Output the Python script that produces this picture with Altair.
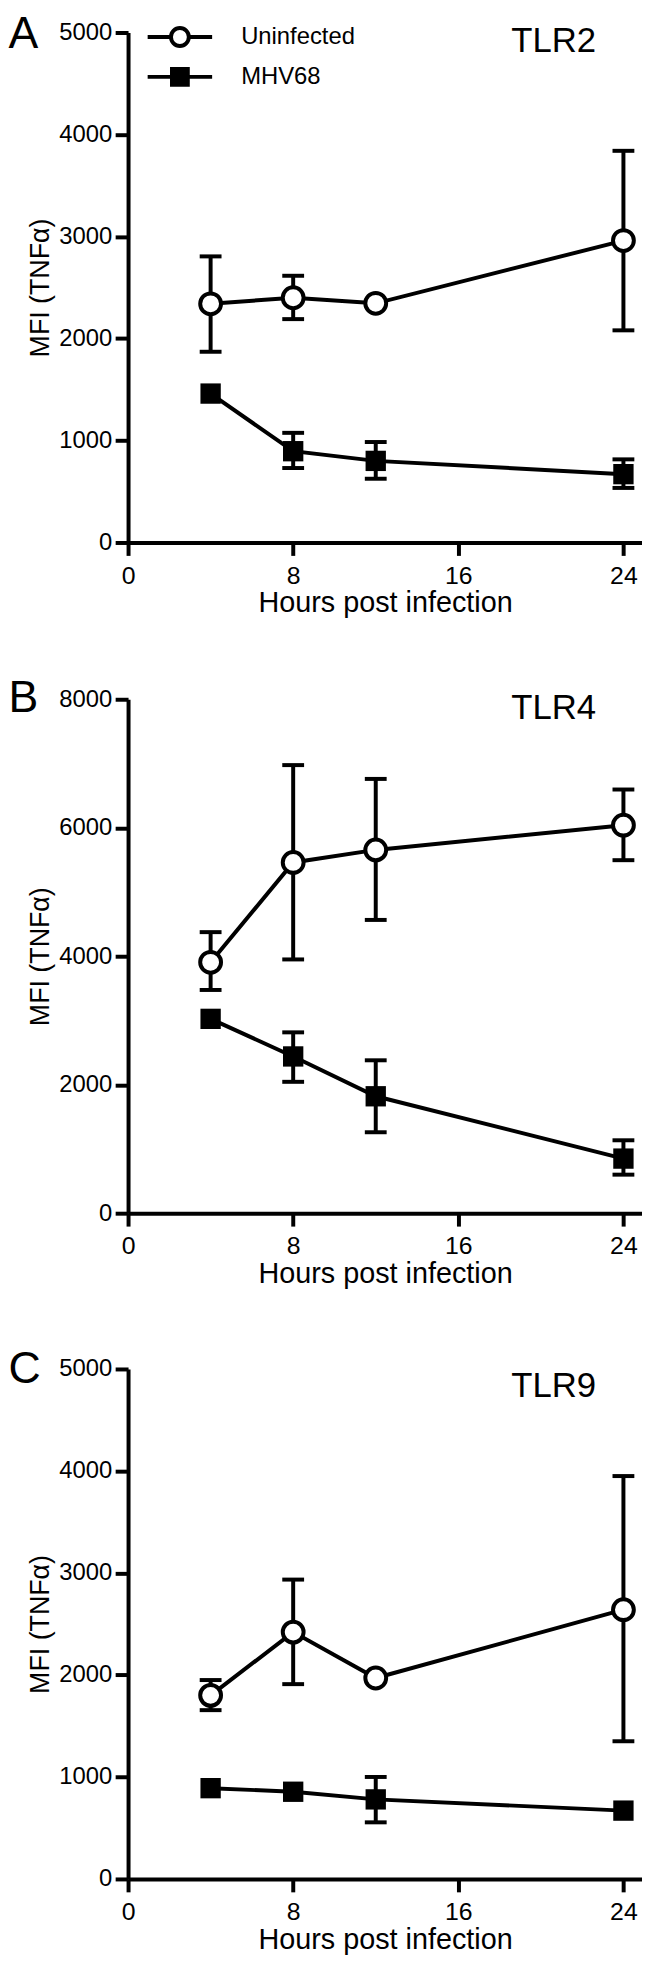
import altair as alt
import pandas as pd

FONT = "Liberation Sans"

hours = [4, 8, 12, 24]
series_names = ["Uninfected", "MHV68"]
x_ticks = [0, 8, 16, 24]

# Panel A: TLR2
tlr2_uninf = [2340, 2400, 2345, 2960]
tlr2_uninf_lo = [1870, 2190, None, 2080]
tlr2_uninf_hi = [2805, 2615, None, 3840]
tlr2_mhv = [1460, 895, 800, 670]
tlr2_mhv_lo = [None, 730, 625, 535]
tlr2_mhv_hi = [None, 1075, 985, 815]

# Panel B: TLR4
tlr4_uninf = [3905, 5460, 5655, 6040]
tlr4_uninf_lo = [3475, 3950, 4565, 5495]
tlr4_uninf_hi = [4375, 6975, 6760, 6595]
tlr4_mhv = [3025, 2440, 1820, 850]
tlr4_mhv_lo = [None, 2045, 1260, 600]
tlr4_mhv_hi = [None, 2815, 2380, 1135]

# Panel C: TLR9
tlr9_uninf = [1800, 2420, 1970, 2640]
tlr9_uninf_lo = [1655, 1910, None, 1350]
tlr9_uninf_hi = [1950, 2935, None, 3950]
tlr9_mhv = [890, 855, 780, 670]
tlr9_mhv_lo = [None, None, 555, None]
tlr9_mhv_hi = [None, None, 1000, None]

XMAX = 24.9
PLOT_W = 518

# legend symbols: line with open circle / filled square (unit coords)
PATH_CIRCLE = ("M-2,0H-0.554M0.554,0H2M0.554,0A0.554,0.554,0,1,1,-0.554,0"
               "A0.554,0.554,0,1,1,0.554,0Z")
PATH_SQUARE = "M-2,0H2M-0.49,-0.49H0.49V0.49H-0.49Z"


def build_df(u, ulo, uhi, m, mlo, mhi):
    rows = []
    for i, h in enumerate(hours):
        rows.append({"hours": h, "value": u[i], "lo": ulo[i], "hi": uhi[i],
                     "series": "Uninfected"})
    for i, h in enumerate(hours):
        rows.append({"hours": h, "value": m[i], "lo": mlo[i], "hi": mhi[i],
                     "series": "MHV68"})
    return pd.DataFrame(rows)


def panel(letter, letter_y, tlr, tlr_y, ymax, ystep, height, data,
          legend=False):
    df = build_df(*data)
    base = alt.Chart(df)
    x_axis = alt.Axis(values=x_ticks, title="Hours post infection",
                      labelFlush=False, grid=False)
    y_axis = alt.Axis(values=list(range(0, ymax + 1, ystep)),
                      title="MFI (TNFα)", format="d", labelFlush=False,
                      grid=False)
    xs = alt.Scale(domain=[0, XMAX], nice=False, zero=True)
    ys = alt.Scale(domain=[0, ymax], nice=False)

    def X():
        return alt.X("hours:Q", scale=xs, axis=x_axis)

    def Y(f):
        return alt.Y(f + ":Q", scale=ys, axis=y_axis)

    err = base.transform_filter("isValid(datum.lo)")
    rules = err.mark_rule(color="black", strokeWidth=4).encode(
        x=X(), y=Y("lo"), y2="hi:Q")
    cap_lo = err.mark_tick(orient="horizontal", size=22, thickness=4,
                           color="black", opacity=1).encode(x=X(), y=Y("lo"))
    cap_hi = err.mark_tick(orient="horizontal", size=22, thickness=4,
                           color="black", opacity=1).encode(x=X(), y=Y("hi"))
    lines = base.mark_line(color="black", strokeWidth=4).encode(
        x=X(), y=Y("value"), detail="series:N")
    squares = base.transform_filter("datum.series == 'MHV68'").mark_square(
        size=420, color="black", opacity=1).encode(x=X(), y=Y("value"))
    circles = base.transform_filter("datum.series == 'Uninfected'").mark_point(
        shape="circle", filled=True, fill="white", stroke="black",
        strokeWidth=4, size=441, opacity=1).encode(x=X(), y=Y("value"))

    layers = [rules, cap_lo, cap_hi, lines, squares, circles]

    if legend:
        leg = dict(title=None, orient="none", legendX=33.75, legendY=-14,
                   symbolSize=1056, symbolStrokeWidth=4,
                   symbolStrokeColor="black", symbolOpacity=1,
                   labelFont=FONT, labelFontSize=24, labelColor="black",
                   labelOffset=43.25, rowPadding=4.2, padding=0)
        leg_layer = base.transform_filter("false").mark_point(
            strokeWidth=4, opacity=1).encode(
            x=X(), y=Y("value"),
            shape=alt.Shape("series:N",
                            scale=alt.Scale(domain=series_names,
                                            range=[PATH_CIRCLE, PATH_SQUARE]),
                            legend=alt.Legend(**leg)),
            fill=alt.Fill("series:N",
                          scale=alt.Scale(domain=series_names,
                                          range=["white", "black"]),
                          legend=alt.Legend(**leg)),
            stroke=alt.Stroke("series:N",
                              scale=alt.Scale(domain=series_names,
                                              range=["black", "black"]),
                              legend=alt.Legend(**leg)),
        )
        layers.append(leg_layer)

    letter_txt = alt.Chart(pd.DataFrame({"t": [letter]})).mark_text(
        font=FONT, fontSize=45, align="left", baseline="top",
        color="black").encode(text="t:N", x=alt.value(-120.5),
                              y=alt.value(letter_y))
    tlr_txt = alt.Chart(pd.DataFrame({"t": [tlr]})).mark_text(
        font=FONT, fontSize=35, align="center", baseline="middle",
        color="black").encode(text="t:N", x=alt.value(429), y=alt.value(tlr_y))
    layers += [letter_txt, tlr_txt]

    return alt.layer(*layers).properties(width=PLOT_W, height=height)


pA = panel("A", -20, "TLR2", 9, 5000, 1000, 514,
           (tlr2_uninf, tlr2_uninf_lo, tlr2_uninf_hi,
            tlr2_mhv, tlr2_mhv_lo, tlr2_mhv_hi), legend=True)
pB = panel("B", -23, "TLR4", 9, 8000, 2000, 518,
           (tlr4_uninf, tlr4_uninf_lo, tlr4_uninf_hi,
            tlr4_mhv, tlr4_mhv_lo, tlr4_mhv_hi))
pC = panel("C", -22, "TLR9", 17.5, 5000, 1000, 514,
           (tlr9_uninf, tlr9_uninf_lo, tlr9_uninf_hi,
            tlr9_mhv, tlr9_mhv_lo, tlr9_mhv_hi))

chart = alt.vconcat(pA, pB, pC, spacing=59).properties(
    padding={"left": 0, "top": -3, "right": 0, "bottom": 0}
).configure_view(stroke=None).configure_axis(
    domainColor="black", domainWidth=4, tickColor="black", tickWidth=4,
    tickSize=13, labelFont=FONT, labelColor="black",
    titleFont=FONT, titleFontWeight="normal",
    titleColor="black", grid=False
).configure_axisX(labelPadding=8, titlePadding=1, labelFontSize=25,
                  titleFontSize=29).configure_axisY(
    labelPadding=3.5, titlePadding=4, labelFontSize=24, titleFontSize=27)

chart.save("out.html", embed_options={"renderer": "svg", "actions": False})
